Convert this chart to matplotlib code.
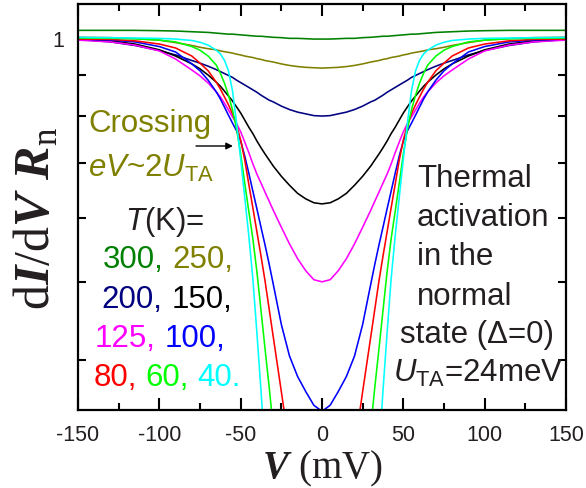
import matplotlib
matplotlib.use('Agg')
import matplotlib.pyplot as plt
from matplotlib.ticker import FixedLocator, NullFormatter, FixedFormatter

plt.rcParams['font.family'] = ['Liberation Sans', 'DejaVu Sans']
plt.rcParams['axes.unicode_minus'] = False
plt.rcParams['mathtext.fontset'] = 'custom'
plt.rcParams['mathtext.rm'] = 'Liberation Sans'
plt.rcParams['mathtext.it'] = 'Liberation Sans:italic'
plt.rcParams['mathtext.bf'] = 'Liberation Serif:bold:italic'
plt.rcParams['mathtext.sf'] = 'Liberation Serif'

# ---------------- data ----------------
V = [-150, -130, -115, -100, -90, -80, -75, -70, -65, -62.5, -60, -57.5, -55,
     -52.5, -50, -47.5, -45, -42.5, -40, -37.5, -35, -32.5, -30, -25, -20, -15,
     -10, -5, 0, 5, 10, 15, 20, 25, 30, 32.5, 35, 37.5, 40, 42.5, 45, 47.5, 50,
     52.5, 55, 57.5, 60, 62.5, 65, 70, 75, 80, 90, 100, 115, 130, 150]

g300 = [1.022, 1.022, 1.022, 1.021, 1.020, 1.018, 1.017, 1.016, 1.014, 1.013,
        1.012, 1.011, 1.011, 1.010, 1.009, 1.008, 1.007, 1.006, 1.005, 1.005,
        1.004, 1.003, 1.002, 1.001, 0.999, 0.999, 0.998, 0.997,
        0.997,
        0.997, 0.998, 0.999, 0.999, 1.001, 1.002, 1.003, 1.004, 1.005, 1.005,
        1.006, 1.007, 1.008, 1.009, 1.010, 1.011, 1.011, 1.012, 1.013, 1.014,
        1.016, 1.017, 1.018, 1.020, 1.021, 1.022, 1.022, 1.022]

g250 = [1.002, 1.001, 0.998, 0.994, 0.987, 0.979, 0.974, 0.970, 0.967, 0.964,
        0.962, 0.960, 0.958, 0.955, 0.953, 0.950, 0.948, 0.946, 0.943, 0.941,
        0.938, 0.936, 0.934, 0.929, 0.925, 0.922, 0.920, 0.919,
        0.918,
        0.919, 0.920, 0.922, 0.925, 0.929, 0.934, 0.936, 0.938, 0.941, 0.943,
        0.946, 0.948, 0.950, 0.953, 0.955, 0.958, 0.960, 0.962, 0.964, 0.967,
        0.970, 0.974, 0.979, 0.987, 0.994, 0.998, 1.001, 1.002]

g200 = [0.996, 0.989, 0.979, 0.965, 0.953, 0.938, 0.931, 0.923, 0.914, 0.909,
        0.904, 0.899, 0.894, 0.887, 0.881, 0.875, 0.869, 0.863, 0.857, 0.850,
        0.844, 0.838, 0.834, 0.824, 0.816, 0.810, 0.806, 0.802,
        0.801,
        0.802, 0.806, 0.810, 0.816, 0.824, 0.834, 0.838, 0.844, 0.850, 0.857,
        0.863, 0.869, 0.875, 0.881, 0.887, 0.894, 0.899, 0.904, 0.909, 0.914,
        0.923, 0.931, 0.938, 0.953, 0.965, 0.979, 0.989, 0.996]

g150 = [0.996, 0.992, 0.983, 0.967, 0.950, 0.929, 0.916, 0.900, 0.882, 0.872,
        0.860, 0.848, 0.836, 0.822, 0.808, 0.792, 0.776, 0.762, 0.746, 0.732,
        0.719, 0.707, 0.695, 0.675, 0.658, 0.643, 0.633, 0.626,
        0.624,
        0.626, 0.633, 0.643, 0.658, 0.675, 0.695, 0.707, 0.719, 0.732, 0.746,
        0.762, 0.776, 0.792, 0.808, 0.822, 0.836, 0.848, 0.860, 0.872, 0.882,
        0.900, 0.916, 0.929, 0.950, 0.967, 0.983, 0.992, 0.996]

g125 = [0.994, 0.989, 0.980, 0.964, 0.942, 0.913, 0.898, 0.880, 0.858, 0.846,
        0.831, 0.815, 0.799, 0.784, 0.766, 0.744, 0.722, 0.699, 0.679, 0.662,
        0.645, 0.629, 0.613, 0.584, 0.557, 0.534, 0.516, 0.503,
        0.500,
        0.503, 0.516, 0.534, 0.557, 0.584, 0.613, 0.629, 0.645, 0.662, 0.679,
        0.699, 0.722, 0.744, 0.766, 0.784, 0.799, 0.815, 0.831, 0.846, 0.858,
        0.880, 0.898, 0.913, 0.942, 0.964, 0.980, 0.989, 0.994]

g100 = [0.997, 0.994, 0.989, 0.976, 0.961, 0.929, 0.911, 0.887, 0.858, 0.841,
        0.822, 0.803, 0.785, 0.768, 0.746, 0.715, 0.681, 0.647, 0.615, 0.584,
        0.555, 0.526, 0.497, 0.443, 0.405, 0.382, 0.366, 0.352,
        0.346,
        0.352, 0.366, 0.382, 0.405, 0.443, 0.497, 0.526, 0.555, 0.584, 0.615,
        0.647, 0.681, 0.715, 0.746, 0.768, 0.785, 0.803, 0.822, 0.841, 0.858,
        0.887, 0.911, 0.929, 0.961, 0.976, 0.989, 0.994, 0.997]

g80 = [0.997, 0.996, 0.992, 0.983, 0.972, 0.950, 0.931, 0.911, 0.882, 0.865,
       0.846, 0.827, 0.806, 0.781, 0.748, 0.707, 0.660, 0.617, 0.576, 0.538,
       0.501, 0.463, 0.428, 0.366, 0.312, 0.267, 0.228, 0.200,
       0.190,
       0.200, 0.228, 0.267, 0.312, 0.366, 0.428, 0.463, 0.501, 0.538, 0.576,
       0.617, 0.660, 0.707, 0.748, 0.781, 0.806, 0.827, 0.846, 0.865, 0.882,
       0.911, 0.931, 0.950, 0.972, 0.983, 0.992, 0.996, 0.997]

g60 = [1.000, 0.999, 0.998, 0.994, 0.989, 0.976, 0.966, 0.950, 0.926, 0.905,
       0.880, 0.850, 0.815, 0.772, 0.719, 0.662, 0.611, 0.565, 0.514, 0.461,
       0.413, 0.371, 0.331, 0.260, 0.205, 0.165, 0.135, 0.118,
       0.112,
       0.118, 0.135, 0.165, 0.205, 0.260, 0.331, 0.371, 0.413, 0.461, 0.514,
       0.565, 0.611, 0.662, 0.719, 0.772, 0.815, 0.850, 0.880, 0.905, 0.926,
       0.950, 0.966, 0.976, 0.989, 0.994, 0.998, 0.999, 1.000]

g40 = [1.002, 1.001, 1.000, 0.999, 0.997, 0.993, 0.988, 0.980, 0.966, 0.956,
       0.939, 0.911, 0.860, 0.785, 0.709, 0.636, 0.570, 0.504, 0.432, 0.367,
       0.307, 0.255, 0.212, 0.145, 0.100, 0.070, 0.052, 0.043,
       0.040,
       0.043, 0.052, 0.070, 0.100, 0.145, 0.212, 0.255, 0.307, 0.367, 0.432,
       0.504, 0.570, 0.636, 0.709, 0.785, 0.860, 0.911, 0.939, 0.956, 0.966,
       0.980, 0.988, 0.993, 0.997, 0.999, 1.000, 1.001, 1.002]

temps = ['300', '250', '200', '150', '125', '100', '80', '60', '40']
colors = ['#008000', '#808000', '#000080', '#000000', '#FF00FF',
          '#0000FF', '#FF0000', '#00FF00', '#00FFFF']
series = [g300, g250, g200, g150, g125, g100, g80, g60, g40]

xticks = [-150, -100, -50, 0, 50, 100, 150]
xminor = [-125, -75, -25, 25, 75, 125]
yticks = [1]
yminor = [0.4, 0.5, 0.6, 0.7, 0.8, 0.9]

# ---------------- figure ----------------
W, H = 586, 489
fig = plt.figure(figsize=(W / 100, H / 100), dpi=100)
ax = fig.add_axes([78 / W, 1 - 411 / H, 488 / W, 406 / H])

for ys, c in zip(series, colors):
    ax.plot(V, ys, color=c, lw=1.15, solid_joinstyle='round')

ax.set_yscale('log')
ax.set_xlim(-150, 150)
ax.set_ylim(0.3473, 1.1015)

ax.xaxis.set_major_locator(FixedLocator(xticks))
ax.xaxis.set_minor_locator(FixedLocator(xminor))
ax.xaxis.set_major_formatter(FixedFormatter([str(t) for t in xticks]))
ax.xaxis.set_minor_formatter(NullFormatter())
ax.yaxis.set_major_locator(FixedLocator(yticks))
ax.yaxis.set_major_formatter(FixedFormatter(['1']))
ax.yaxis.set_minor_locator(FixedLocator(yminor))
ax.yaxis.set_minor_formatter(NullFormatter())

tc = '#231F20'
ax.tick_params(which='both', direction='in', top=True, right=True,
               width=1.5, color='k', labelsize=15.5, labelcolor=tc, pad=10)
ax.tick_params(axis='x', which='major', length=8.5)
ax.tick_params(axis='x', which='minor', length=5)
ax.tick_params(axis='y', which='both', length=5.5)
for s in ax.spines.values():
    s.set_linewidth(1.6)


def P(x, y):
    return (x / W, 1 - y / H)


# axis labels
fig.text(*P(323, 478), r'$\mathbf{V}\ \mathsf{(mV)}$', ha='center',
         va='baseline', fontsize=28, color=tc)
fig.text(*P(36, 218), r'$\mathsf{d}\mathbf{I}\mathsf{/d}\mathbf{V}\ \mathbf{R}_{\mathsf{n}}$',
         ha='center', va='center', rotation=90, fontsize=36, color=tc)

# left annotations
olive = '#808000'
fs = 22.5
fig.text(*P(88, 132), 'Crossing', color=olive, fontsize=fs, va='baseline')
fig.text(*P(88, 177), r'$eV$~2$U_{\mathrm{TA}}$', color=olive, fontsize=fs,
         va='baseline')
ax.annotate('', xy=P(233, 147), xytext=P(196, 147), xycoords='figure fraction',
            textcoords='figure fraction',
            arrowprops=dict(arrowstyle='-|>', color='k', lw=1.0,
                            mutation_scale=10, shrinkA=0, shrinkB=0))
fig.text(*P(125, 230), r'$T$(K)=', color=tc, fontsize=fs, va='baseline')

rows = [(102.7, 268, [0, 1]), (101.7, 308, [2, 3]), (95, 347, [4, 5]),
        (93.3, 386, [6, 7, 8])]
space_pt = 0.278 * fs
for x0, yb, idx in rows:
    prev = None
    for k, i in enumerate(idx):
        s = temps[i] + ('.' if i == 8 else ',')
        if prev is None:
            prev = fig.text(*P(x0, yb), s, color=colors[i], fontsize=fs,
                            va='baseline')
        else:
            prev = ax.annotate(s, xy=(1, 0), xycoords=prev,
                               xytext=(space_pt, 0), textcoords='offset points',
                               va='bottom', ha='left', color=colors[i],
                               fontsize=fs)

# right annotations
right_lines = [(417, 187, 'Thermal'), (417, 226, 'activation'),
               (417, 265, 'in the'), (417, 305, 'normal'),
               (400, 343, 'state (\u0394=0)'),
               (393, 382, r'$U_{\mathrm{TA}}$=24meV')]
for x0, yb, s in right_lines:
    fig.text(*P(x0, yb), s, color=tc, fontsize=fs, va='baseline')

fig.savefig('out.png', dpi=100)
